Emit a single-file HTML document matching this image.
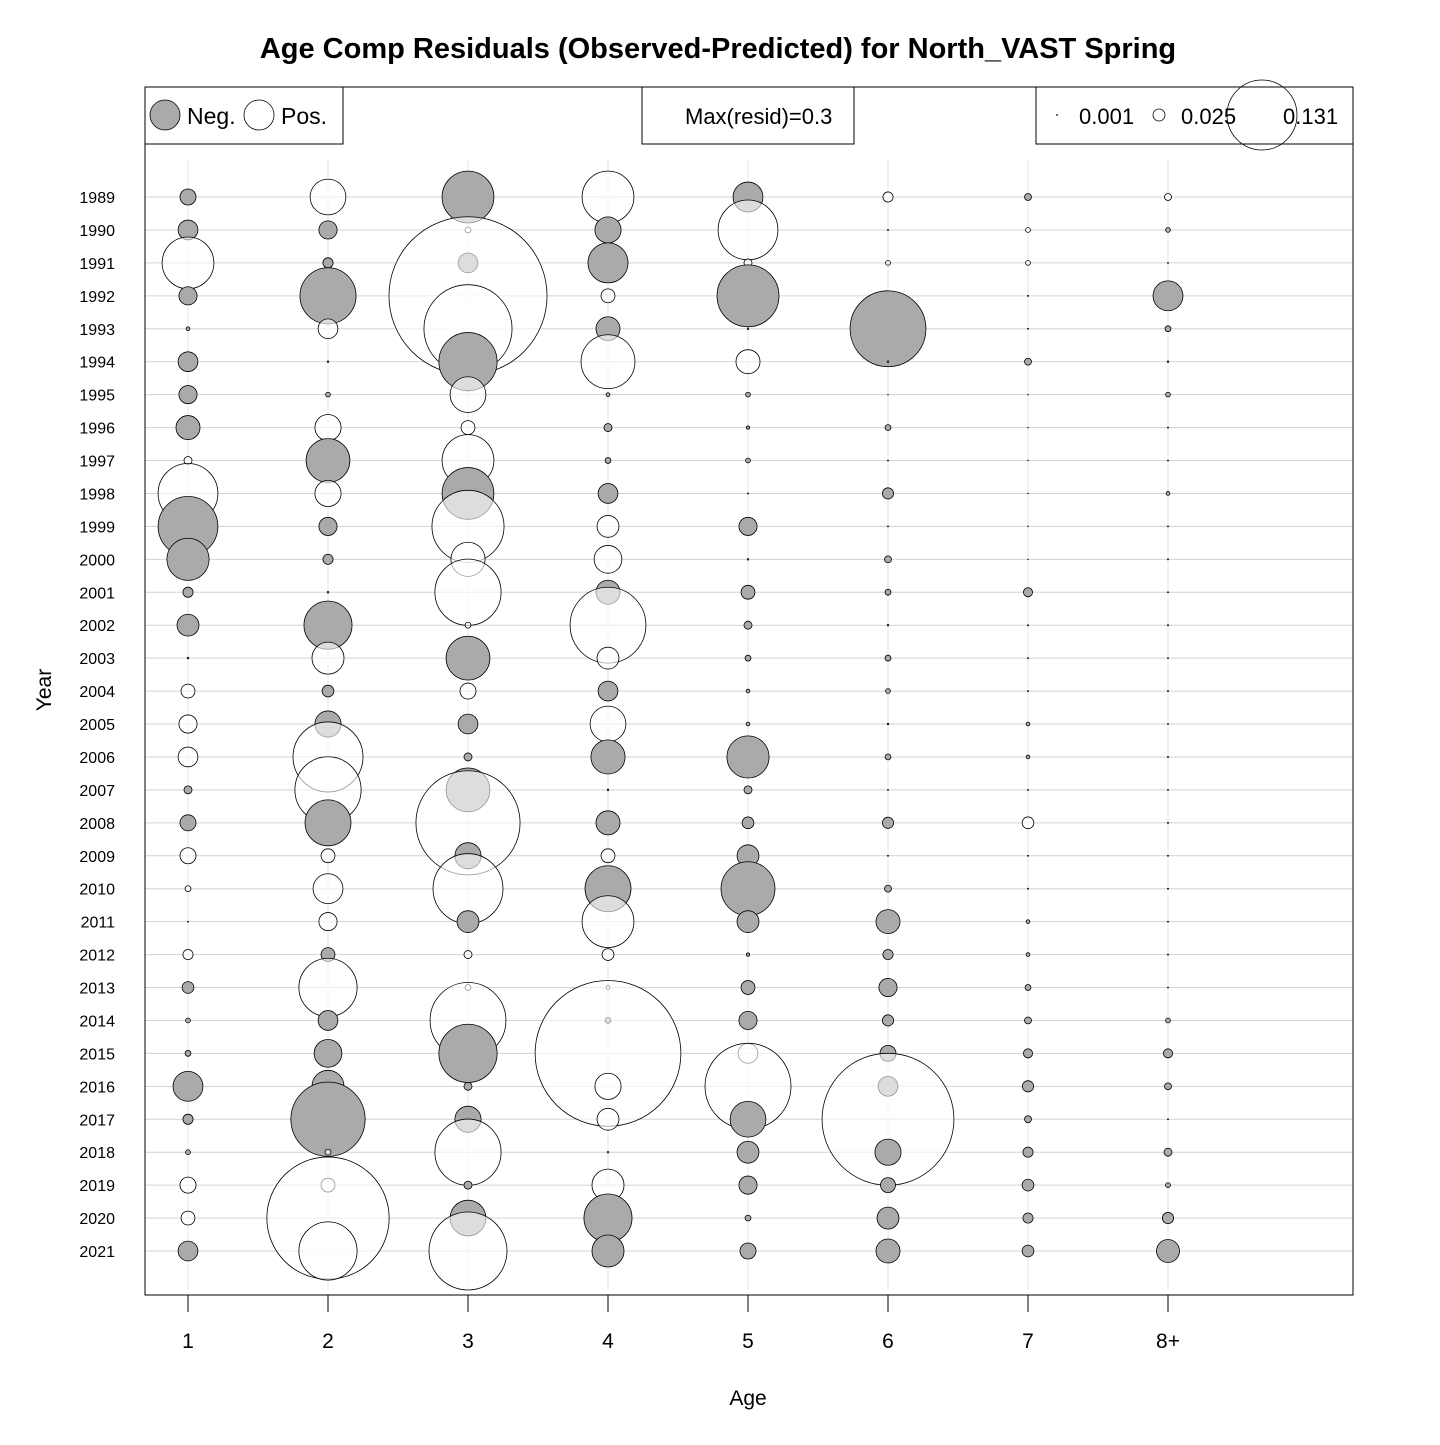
<!DOCTYPE html>
<html><head><meta charset="utf-8"><style>
body{margin:0;background:#fff;}
svg text{font-family:"Liberation Sans",Arial,sans-serif;}
</style></head><body>
<svg id="chart" width="1440" height="1440" viewBox="0 0 1440 1440" xmlns="http://www.w3.org/2000/svg">
<text x="718" y="58" text-anchor="middle" font-size="29" font-weight="bold">Age Comp Residuals (Observed-Predicted) for North_VAST Spring</text>
<g id="grid"></g>
<g id="bubbles"></g>
<rect x="145" y="87" width="1208" height="1208" fill="none" stroke="#000" stroke-width="1"/>
<g>
<rect x="145" y="87" width="198" height="57" fill="#fff" stroke="#000"/>
<circle cx="165" cy="115" r="15" fill="#aaa" stroke="#000" stroke-width="0.8"/>
<text x="187" y="124" font-size="23">Neg.</text>
<circle cx="259" cy="115" r="15" fill="#fff" stroke="#000" stroke-width="0.8"/>
<text x="281" y="124" font-size="23">Pos.</text>
</g>
<g>
<rect x="642" y="87" width="212" height="57" fill="#fff" stroke="#000"/>
<text x="685" y="124" font-size="22">Max(resid)=0.3</text>
</g>
<g>
<rect x="1036" y="87" width="317" height="57" fill="#fff" stroke="#000"/>
<circle cx="1057" cy="115" r="0.5" fill="#fff" stroke="#000" stroke-width="0.8"/>
<text x="1079" y="124" font-size="22">0.001</text>
<circle cx="1159" cy="115" r="6" fill="#fff" stroke="#000" stroke-width="0.8"/>
<text x="1181" y="124" font-size="22">0.025</text>
<circle cx="1262" cy="115" r="35" fill="none" stroke="#000" stroke-width="0.8"/>
<text x="1283" y="124" font-size="22">0.131</text>
</g>
<g id="axes"></g>
<text x="748" y="1405" text-anchor="middle" font-size="21">Age</text>
<text transform="translate(51,690) rotate(-90)" text-anchor="middle" font-size="21">Year</text>
</svg>
<script>
const ages=["1","2","3","4","5","6","7","8+"];
const years=[1989,1990,1991,1992,1993,1994,1995,1996,1997,1998,1999,2000,2001,2002,2003,2004,2005,2006,2007,2008,2009,2010,2011,2012,2013,2014,2015,2016,2017,2018,2019,2020,2021];
const age1=[-0.03,-0.037,0.097,-0.034,-0.007,-0.037,-0.034,-0.045,0.015,0.112,-0.112,-0.079,-0.019,-0.041,0.003,0.026,0.034,0.037,-0.015,-0.03,0.03,0.011,0.002,0.019,-0.022,-0.009,-0.011,-0.056,-0.019,-0.009,0.03,0.026,-0.037];
const age2=[0.067,-0.034,-0.019,-0.105,0.037,-0.003,-0.009,0.049,-0.082,0.049,-0.034,-0.019,-0.003,-0.09,0.06,-0.022,-0.049,0.131,0.124,-0.086,0.026,0.056,0.034,-0.026,0.109,-0.037,-0.052,-0.06,-0.139,0.011,0.026,0.229,0.109];
const age3=[-0.097,0.011,-0.037,0.296,0.165,-0.109,0.067,0.026,0.097,-0.097,0.135,0.064,0.124,0.011,-0.082,0.03,-0.037,-0.015,-0.082,0.195,-0.049,0.131,-0.041,0.015,0.011,0.142,-0.109,-0.015,-0.049,0.124,-0.015,-0.067,0.146];
const age4=[0.097,-0.049,-0.075,0.026,-0.045,0.101,-0.007,-0.015,-0.011,-0.037,0.041,0.052,-0.045,0.142,0.041,-0.037,0.067,-0.064,-0.003,-0.045,0.026,-0.086,0.097,0.022,0.007,-0.011,0.273,0.049,0.041,0.003,0.06,-0.09,-0.06];
const age5=[-0.056,0.112,0.015,-0.116,-0.003,0.045,-0.009,-0.006,-0.009,-0.002,-0.034,-0.003,-0.026,-0.015,-0.011,-0.007,-0.007,-0.079,-0.015,-0.022,-0.041,-0.101,-0.041,-0.006,-0.026,-0.034,0.037,0.161,-0.067,-0.041,-0.034,-0.011,-0.03];
const age6=[0.019,0.002,0.009,-0.007,-0.142,-0.003,0.001,-0.011,-0.002,-0.021,-0.002,-0.013,-0.011,-0.003,-0.011,-0.009,-0.003,-0.011,-0.002,-0.021,-0.002,-0.013,-0.045,-0.019,-0.034,-0.021,-0.03,-0.037,0.247,-0.049,-0.028,-0.041,-0.045];
const age7=[-0.013,0.009,0.009,0.002,-0.002,-0.013,0.001,0.001,0.001,0.001,0.001,0.001,-0.017,-0.002,-0.002,-0.002,-0.007,-0.007,-0.002,0.022,-0.002,-0.002,-0.007,-0.007,-0.011,-0.013,-0.017,-0.021,-0.013,-0.019,-0.022,-0.019,-0.022];
const age8=[0.013,-0.009,-0.002,-0.056,-0.011,-0.003,-0.009,-0.002,-0.002,-0.007,-0.002,-0.002,-0.002,-0.002,-0.002,-0.002,-0.002,-0.002,-0.002,-0.002,-0.002,-0.002,-0.002,-0.002,-0.002,-0.009,-0.017,-0.013,-0.002,-0.015,-0.009,-0.021,-0.043];
const series=[age1,age2,age3,age4,age5,age6,age7,age8];

const NS="http://www.w3.org/2000/svg";
function xPos(i){return 188+i*140;}
function yPos(j){return 197+j*(1251-197)/(years.length-1);}
function rScale(v){return Math.abs(v)*267;}
function mk(tag,attrs,parent){const e=document.createElementNS(NS,tag);for(const k in attrs)e.setAttribute(k,attrs[k]);parent.appendChild(e);return e;}
const grid=document.getElementById('grid'),bub=document.getElementById('bubbles'),axes=document.getElementById('axes');
years.forEach((y,j)=>{
  const l=mk('line',{x1:145,x2:1353,y1:yPos(j),y2:yPos(j),stroke:'#d3d3d3','stroke-width':1},grid);
  
  
  const t=mk('text',{x:115,y:yPos(j)+6,'text-anchor':'end','font-size':16},axes);
  t.textContent=y;
  
  
});
ages.forEach((a,i)=>{
  const l=mk('line',{x1:xPos(i),x2:xPos(i),y1:160,y2:1290,stroke:'#e4e4e4','stroke-width':1},grid);
  
  
  const tk=mk('line',{x1:xPos(i),x2:xPos(i),y1:1295,y2:1312,stroke:'#000','stroke-width':1},axes);
  
  
  const t=mk('text',{x:xPos(i),y:1348,'text-anchor':'middle','font-size':21},axes);
  t.textContent=a;
  
  
});
series.forEach((vals,i)=>{
  vals.forEach((v,j)=>{
    const c=mk('circle',{cx:xPos(i),cy:yPos(j),r:Math.max(rScale(v),0.3),
      fill:v<0?'#aaaaaa':'#ffffff','fill-opacity':v<0?1:0.6,stroke:'#000','stroke-width':0.8},bub);
    
    
  });
});
</script>
</body></html>
